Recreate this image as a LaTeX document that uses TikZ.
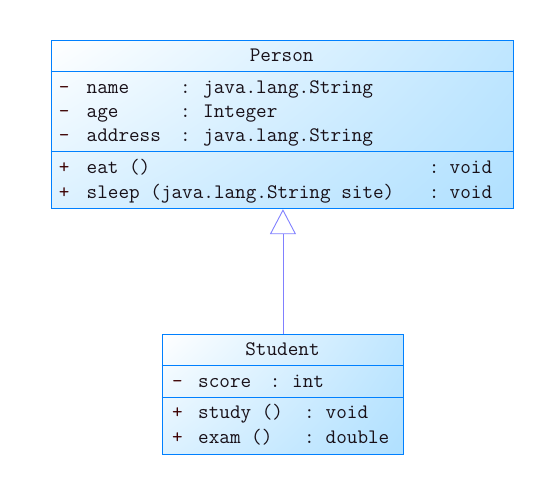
\documentclass[tikz,border=0pt]{standalone}
\usetikzlibrary{arrows.meta,shadings}
\definecolor{umlborder}{RGB}{0,128,255}
\definecolor{umlfill}{RGB}{176,224,255}
\definecolor{umlarrow}{RGB}{128,128,255}
\definecolor{umltext}{RGB}{24,16,24}
\definecolor{umlsign}{RGB}{60,0,0}
\begin{document}
\begin{tikzpicture}%
	[x=1pt, y=-1pt,
	classbox/.style={draw=umlborder, line width=0.9pt, inner sep=0pt, anchor=north west, shade,
		upper left=white, upper right=umlfill!80!white, lower left=umlfill!45!white, lower right=umlfill},
	divider/.style={draw=umlborder, line width=0.9pt},
	inherit/.style={draw=umlarrow, line width=0.9pt, -{Triangle[open, length=25pt, width=26pt]}},
	title/.style={anchor=base, inner sep=0pt, text=umltext, font=\fontsize{20.6}{24}\selectfont\ttfamily},
	member/.style={anchor=base west, inner sep=0pt, text=umltext, font=\fontsize{20.6}{24}\selectfont\ttfamily},
	sign/.style={member, text=umlsign}]
%
\useasboundingbox (0,0) rectangle (547,480);
%%
%% The class boxes
%%
\node[classbox, minimum width=462pt, minimum height=168.3pt] (person) at (50.7,40) {};
\node[classbox, minimum width=241.6pt, minimum height=120.3pt] (student) at (161.7,333.7) {};
%%
%% Compartment lines
%%
\draw[divider] (person.west |- 0,71.7) -- (person.east |- 0,71.7);
\draw[divider] (person.west |- 0,151.7) -- (person.east |- 0,151.7);
\draw[divider] (student.west |- 0,365) -- (student.east |- 0,365);
\draw[divider] (student.west |- 0,397.3) -- (student.east |- 0,397.3);
%%
%% Person
%%
\node[title] (person-title) at (281.7,61) {Person};
\node[sign] (person-name-sign) at (58.6,93.3) {\textendash};
\node[member] (person-name) at (86.5,93.3) {name};
\node[member] (person-name-colon) at (180,93.3) {:};
\node[member] (person-name-type) at (203,93.3) {java.lang.String};
\node[sign] (person-age-sign) at (58.6,117.3) {\textendash};
\node[member] (person-age) at (86.5,117.3) {age};
\node[member] (person-age-colon) at (180,117.3) {:};
\node[member] (person-age-type) at (203,117.3) {Integer};
\node[sign] (person-address-sign) at (58.6,141) {\textendash};
\node[member] (person-address) at (86.5,141) {address};
\node[member] (person-address-colon) at (180,141) {:};
\node[member] (person-address-type) at (203,141) {java.lang.String};
\node[sign] (person-eat-sign) at (58.6,173.3) {+};
\node[member] (person-eat) at (86.5,173.3) {eat ()};
\node[member] (person-eat-colon) at (428.6,173.3) {:};
\node[member] (person-eat-type) at (449.5,173.3) {void};
\node[sign] (person-sleep-sign) at (58.6,198) {+};
\node[member] (person-sleep) at (86.5,198) {sleep (java.lang.String site)};
\node[member] (person-sleep-colon) at (428.6,198) {:};
\node[member] (person-sleep-type) at (449.5,198) {void};
%%
%% Student
%%
\node[title] (student-title) at (282.5,355.3) {Student};
\node[sign] (student-score-sign) at (172,387) {\textendash};
\node[member] (student-score) at (198,387) {score};
\node[member] (student-score-colon) at (269.6,387) {:};
\node[member] (student-score-type) at (292,387) {int};
\node[sign] (student-study-sign) at (172,418.7) {+};
\node[member] (student-study) at (198,418.7) {study ()};
\node[member] (student-study-colon) at (303.8,418.7) {:};
\node[member] (student-study-type) at (325.5,418.7) {void};
\node[sign] (student-exam-sign) at (172,443) {+};
\node[member] (student-exam) at (198,443) {exam ()};
\node[member] (student-exam-colon) at (303.8,443) {:};
\node[member] (student-exam-type) at (325.5,443) {double};
%%
%% Generalization
%%
\draw[inherit] (student.north) -- (student.north |- person.south);
%%
\end{tikzpicture}
\end{document}
